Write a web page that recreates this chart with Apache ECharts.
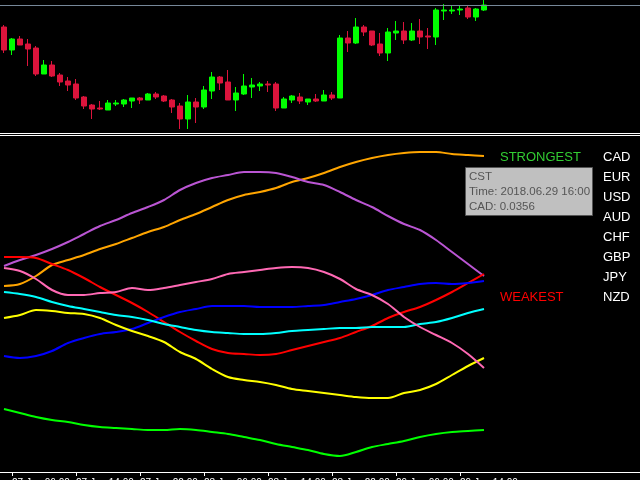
<!DOCTYPE html>
<html>
<head>
<meta charset="utf-8">
<script src="https://cdn.jsdelivr.net/npm/echarts@6/dist/echarts.min.js"></script>
<style>html,body{margin:0;padding:0;background:#000;}#c{width:640px;height:480px;}</style>
</head>
<body>
<div id="c"></div>
<script>
// ---- Price panel (hourly candles, price in points) ----
var candleOpen  = [113,90,101,96,92,66,75,65,59,56,43,35,32,30,36,36,39,42,40,46,44,40,34,21,38,33,49,63,58,40,46,53,54,56,56,32,40,43,38,41,39,45,42,102,97,113,109,96,87,107,109,100,109,104,103,129,129,130,132,123,130];
var candleClose = [90,101,95,91,66,75,64,58,55,42,34,31,31,37,37,40,42,40,46,43,39,33,21,38,33,50,63,57,40,47,54,55,56,55,32,41,44,39,41,39,45,42,102,97,113,108,95,87,108,109,100,109,103,103,130,130,130,131,123,131,135];
var candleLow   = [87,85,95,74,64,66,63,54,49,40,31,21,30,30,34,33,32,36,40,41,38,27,11,11,17,31,41,50,40,29,45,42,49,48,29,32,37,36,35,38,39,40,42,88,96,104,94,84,79,100,96,99,96,91,95,120,126,125,121,119,129];
var candleHigh  = [115,102,104,101,94,80,79,67,63,61,44,36,39,40,40,41,42,43,47,48,45,41,37,45,42,54,68,64,70,53,66,62,58,59,58,43,45,47,41,46,50,48,105,109,122,115,109,107,112,119,118,117,121,112,132,136,135,135,134,132,140];

// ---- Time axis ----
var hourCount = 80;
var tickLabels = ['27 Jun 06:00','27 Jun 14:00','27 Jun 22:00','28 Jun 06:00','28 Jun 14:00','28 Jun 22:00','29 Jun 06:00','29 Jun 14:00'];

// ---- Currency strength lines (sampled every 2 hours) ----
var lineHours = [0,2,4,6,8,10,12,14,16,18,20,22,24,26,28,30,32,34,36,38,40,42,44,46,48,50,52,54,56,58,60];
var CAD = [-0.0300,-0.0290,-0.0250,-0.0195,-0.0170,-0.0145,-0.0115,-0.0090,-0.0060,-0.0030,-0.0005,0.0030,0.0060,0.0095,0.0130,0.0155,0.0170,0.0190,0.0220,0.0240,0.0265,0.0295,0.0320,0.0340,0.0355,0.0365,0.0370,0.0370,0.0360,0.0355,0.0350];
var EUR = [-0.0200,-0.0170,-0.0145,-0.0115,-0.0080,-0.0040,0.0000,0.0030,0.0065,0.0095,0.0130,0.0180,0.0215,0.0240,0.0255,0.0270,0.0270,0.0265,0.0245,0.0220,0.0205,0.0170,0.0130,0.0095,0.0050,0.0010,-0.0020,-0.0070,-0.0130,-0.0190,-0.0250];
var USD = [-0.0155,-0.0155,-0.0160,-0.0190,-0.0220,-0.0260,-0.0305,-0.0345,-0.0385,-0.0430,-0.0480,-0.0530,-0.0575,-0.0615,-0.0635,-0.0640,-0.0645,-0.0640,-0.0620,-0.0600,-0.0580,-0.0560,-0.0530,-0.0500,-0.0460,-0.0430,-0.0405,-0.0370,-0.0330,-0.0285,-0.0240];
var AUD = [-0.0650,-0.0660,-0.0650,-0.0625,-0.0585,-0.0560,-0.0540,-0.0530,-0.0515,-0.0485,-0.0455,-0.0430,-0.0415,-0.0400,-0.0400,-0.0400,-0.0405,-0.0405,-0.0405,-0.0400,-0.0395,-0.0380,-0.0365,-0.0345,-0.0320,-0.0305,-0.0290,-0.0285,-0.0290,-0.0285,-0.0275];
var CHF = [-0.0330,-0.0340,-0.0355,-0.0380,-0.0400,-0.0415,-0.0430,-0.0445,-0.0455,-0.0470,-0.0490,-0.0505,-0.0520,-0.0530,-0.0535,-0.0540,-0.0540,-0.0535,-0.0525,-0.0520,-0.0515,-0.0510,-0.0510,-0.0505,-0.0505,-0.0505,-0.0490,-0.0480,-0.0460,-0.0435,-0.0415];
var GBP = [-0.0460,-0.0445,-0.0420,-0.0425,-0.0435,-0.0440,-0.0460,-0.0495,-0.0525,-0.0550,-0.0580,-0.0630,-0.0665,-0.0715,-0.0755,-0.0770,-0.0780,-0.0795,-0.0815,-0.0825,-0.0835,-0.0845,-0.0855,-0.0860,-0.0860,-0.0835,-0.0820,-0.0790,-0.0745,-0.0700,-0.0660];
var JPY = [-0.0210,-0.0225,-0.0265,-0.0320,-0.0345,-0.0345,-0.0335,-0.0330,-0.0310,-0.0320,-0.0310,-0.0295,-0.0280,-0.0265,-0.0240,-0.0230,-0.0220,-0.0210,-0.0205,-0.0210,-0.0230,-0.0265,-0.0315,-0.0345,-0.0390,-0.0455,-0.0505,-0.0545,-0.0585,-0.0640,-0.0710];
var NZD = [-0.0915,-0.0935,-0.0955,-0.0970,-0.0980,-0.0995,-0.1005,-0.1010,-0.1015,-0.1020,-0.1020,-0.1015,-0.1020,-0.1030,-0.1040,-0.1055,-0.1070,-0.1090,-0.1105,-0.1120,-0.1140,-0.1150,-0.1130,-0.1105,-0.1090,-0.1075,-0.1055,-0.1040,-0.1030,-0.1025,-0.1020];

var rankList = ['CAD','EUR','USD','AUD','CHF','GBP','JPY','NZD'];
var tipLines = ['CST','Time: 2018.06.29 16:00','CAD: 0.0356'];

var lineDefs = [
  {name:'CAD', data:CAD, color:'#FFA500'},
  {name:'EUR', data:EUR, color:'#BA55D3'},
  {name:'USD', data:USD, color:'#FF0000'},
  {name:'AUD', data:AUD, color:'#0000FF'},
  {name:'CHF', data:CHF, color:'#00FFFF'},
  {name:'GBP', data:GBP, color:'#FFFF00'},
  {name:'JPY', data:JPY, color:'#FF69B4'},
  {name:'NZD', data:NZD, color:'#00FF00'}
];

var cats = [];
for (var i = 0; i < hourCount; i++) cats.push(String(i));
var candleData = candleOpen.map(function(o, i){ return [o, candleClose[i], candleLow[i], candleHigh[i]]; });
function isTick(idx){ return idx >= 1 && (idx - 1) % 8 === 0 && (idx - 1) / 8 < tickLabels.length; }

var series = [{
  type: 'candlestick',
  xAxisIndex: 0, yAxisIndex: 0,
  data: candleData,
  barWidth: 5,
  itemStyle: {color:'#00FF00', color0:'#DC143C', borderColor:'#00FF00', borderColor0:'#DC143C', borderWidth:1},
  markLine: {
    silent: true, symbol: ['none','none'],
    label: {show:false},
    lineStyle: {color:'#778899', type:'solid', width:1},
    data: [{yAxis: candleClose[candleClose.length - 1]}]
  }
}];
lineDefs.forEach(function(d){
  series.push({
    type:'line', name:d.name, xAxisIndex:2, yAxisIndex:1,
    data: lineHours.map(function(h, i){ return [h, d.data[i]]; }),
    smooth: 0.3, showSymbol:false, symbol:'none',
    lineStyle:{color:d.color, width:2}, itemStyle:{color:d.color}
  });
});

var graphics = [];
graphics.push({type:'text', left:500, top:151, style:{text:'STRONGEST', fill:'#32CD32', font:'13px "Liberation Sans", Arial, sans-serif'}});
graphics.push({type:'text', left:500, top:291, style:{text:'WEAKEST', fill:'#FF0000', font:'13px "Liberation Sans", Arial, sans-serif'}});
rankList.forEach(function(c, i){
  graphics.push({type:'text', left:603, top:151 + i*20, style:{text:c, fill:'#FFFFFF', font:'13px "Liberation Sans", Arial, sans-serif'}});
});
graphics.push({type:'rect', shape:{x:465.5, y:167.5, width:127, height:48}, style:{fill:'#C0C0C0', stroke:'#555555', lineWidth:1}});
tipLines.forEach(function(t, i){
  graphics.push({type:'text', x:469, y:171 + i*15, style:{text:t, fill:'#555555', font:'11.5px "Liberation Sans", Arial, sans-serif'}});
});

var chart = echarts.init(document.getElementById('c'));
chart.setOption({
  backgroundColor:'#000000',
  animation:false,
  grid:[
    {left:0, right:0, top:0, height:133, containLabel:false, outerBoundsMode:'none'},
    {left:0, right:0, top:135, height:337, containLabel:false, outerBoundsMode:'none'}
  ],
  xAxis:[
    {type:'category', gridIndex:0, data:cats, boundaryGap:true, position:'bottom',
     axisLine:{show:true, onZero:false, lineStyle:{color:'#FFFFFF', width:1}},
     axisTick:{show:false}, axisLabel:{show:false}, splitLine:{show:false}},
    {type:'category', gridIndex:1, data:cats, boundaryGap:true, position:'bottom',
     axisLine:{show:true, onZero:false, lineStyle:{color:'#FFFFFF', width:1}},
     axisTick:{show:true, alignWithLabel:true, interval:function(idx){ return isTick(idx); }, length:4, lineStyle:{color:'#FFFFFF'}},
     axisLabel:{show:true, hideOverlap:false, interval:function(idx){ return isTick(idx); }, color:'#FFFFFF', fontSize:10, fontFamily:'"Liberation Sans", Arial, sans-serif', align:'left', margin:6,
       formatter:function(v, idx){ return isTick(idx) ? tickLabels[(idx - 1) / 8] : ''; }},
     splitLine:{show:false}},
    {type:'value', gridIndex:1, min:-0.5, max:79.5, position:'top',
     axisLine:{show:true, onZero:false, lineStyle:{color:'#FFFFFF', width:1}},
     axisTick:{show:false}, axisLabel:{show:false}, splitLine:{show:false}}
  ],
  yAxis:[
    {type:'value', gridIndex:0, min:7, max:140, show:false, splitLine:{show:false}},
    {type:'value', gridIndex:1, min:-0.123, max:0.0455, show:false, splitLine:{show:false}}
  ],
  series: series,
  graphic: graphics
});
</script>
</body>
</html>
